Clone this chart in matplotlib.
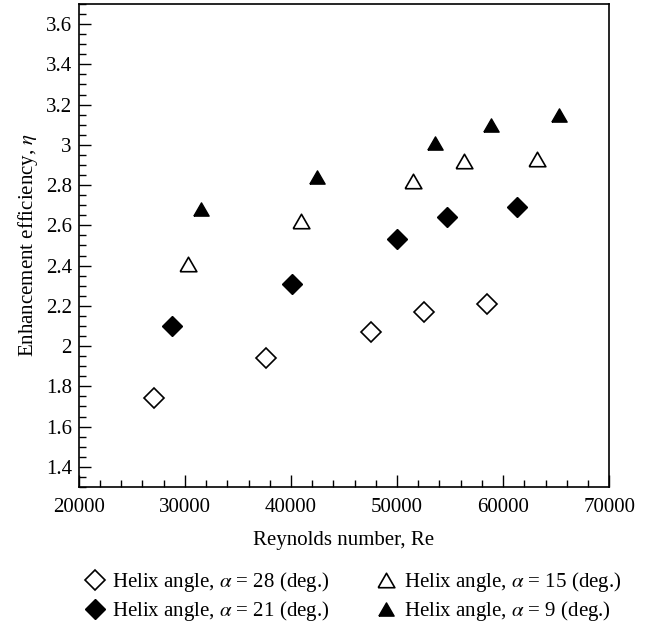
import numpy as np
import matplotlib.pyplot as plt
from matplotlib.ticker import MultipleLocator

# -----
# Data
# -----

re_28 = [27100, 37600, 47500, 52500, 58500]
eta_28 = [1.74, 1.94, 2.07, 2.17, 2.21]

re_21 = [28800, 40100, 50000, 54700, 61300]
eta_21 = [2.10, 2.31, 2.53, 2.64, 2.69]

re_15 = [30300, 40900, 51500, 56300, 63200]
eta_15 = [2.41, 2.62, 2.82, 2.92, 2.93]

re_9 = [31500, 42500, 53600, 58900, 65300]
eta_9 = [2.68, 2.84, 3.01, 3.10, 3.15]

labels = [
    r"Helix angle, $\alpha$ = 28 (deg.)",
    r"Helix angle, $\alpha$ = 21 (deg.)",
    r"Helix angle, $\alpha$ = 15 (deg.)",
    r"Helix angle, $\alpha$ = 9 (deg.)",
]

# -----
# Style
# -----

plt.rcParams["font.family"] = ["Liberation Serif", "DejaVu Serif"]
plt.rcParams["mathtext.fontset"] = "stix"
FS = 15

# equilateral triangle, centred at mid-height
tri = [(-1, -0.866), (1, -0.866), (0, 0.866), (-1, -0.866)]

fig = plt.figure(figsize=(6.46, 6.23), dpi=100)
ax = fig.add_axes([0.122, 0.2183, 0.821, 0.7753])

h28 = ax.plot(re_28, eta_28, ls="none", marker="D", ms=9.8, mfc="white",
              mec="black", mew=1.2)[0]
h21 = ax.plot(re_21, eta_21, ls="none", marker="D", ms=9.8, mfc="black",
              mec="black", mew=1.0)[0]
h15 = ax.plot(re_15, eta_15, ls="none", marker=tri, ms=12, mfc="white",
              mec="black", mew=1.2)[0]
h9 = ax.plot(re_9, eta_9, ls="none", marker=tri, ms=11, mfc="black",
             mec="black", mew=1.0)[0]

ax.set_xlim(20000, 70000)
ax.set_ylim(1.3, 3.7)
ax.xaxis.set_major_locator(MultipleLocator(10000))
ax.xaxis.set_minor_locator(MultipleLocator(2000))
ax.yaxis.set_major_locator(MultipleLocator(0.2))
ax.yaxis.set_minor_locator(MultipleLocator(0.05))
ax.yaxis.set_major_formatter(lambda v, pos: f"{v:.1f}".rstrip("0").rstrip("."))

ax.tick_params(which="both", direction="in", top=False, right=False,
               width=1.0, labelsize=FS)
ax.tick_params(which="major", length=8.5)
ax.tick_params(axis="x", which="major", pad=8)
ax.tick_params(axis="y", which="major", pad=5)
ax.tick_params(which="minor", length=5)
for s in ax.spines.values():
    s.set_linewidth(1.2)

ax.set_xlabel("Reynolds number, Re", fontsize=FS, labelpad=10)
ax.set_ylabel(r"Enhancement efficiency, $\eta$", fontsize=FS, labelpad=4)

fig.legend([h28, h21, h15, h9], labels, ncol=2, frameon=False,
           loc="center", bbox_to_anchor=(0.546, 0.042),
           bbox_transform=fig.transFigure, fontsize=FS,
           handletextpad=0.35, columnspacing=2.2, labelspacing=0.25,
           handlelength=1.0, borderpad=0)

fig.savefig("out.png", dpi=100)
